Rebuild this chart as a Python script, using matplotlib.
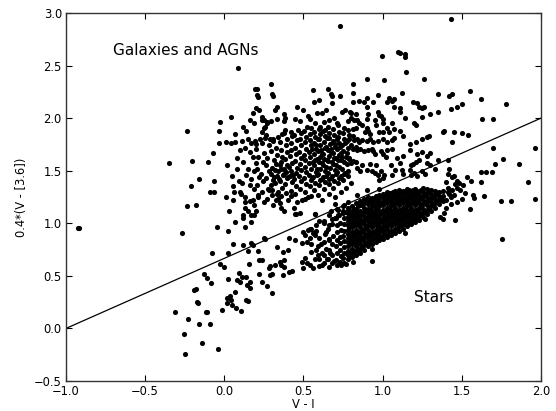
import matplotlib
matplotlib.use("Agg")
import matplotlib.pyplot as plt

# ---- data (V-I, 0.4*(V-[3.6])) ----
outliers = [(-0.925, 0.957), (-0.915, 0.955), (0.088, 2.48), (0.73, 2.875), (1.43, 2.94)]

left_pts = [
    (0.194, 2.28), (-0.027, 1.96), (0.042, 2.01), (-0.234, 1.875), (-0.032, 1.88), (-0.034, 1.76),
    (0.01, 1.77), (0.04, 1.76), (0.07, 1.77), (-0.07, 1.67), (-0.347, 1.573), (-0.204, 1.59),
    (-0.103, 1.58), (0.082, 1.52), (-0.162, 1.42), (-0.063, 1.40),
    (-0.21, 1.354), (-0.09, 1.30), (-0.065, 1.30), (0.057, 1.35), (0.10, 1.30), (0.105, 1.28),
    (-0.237, 1.16), (-0.18, 1.17), (0.053, 1.22), (0.13, 1.20), (0.16, 1.21), (0.13, 1.15),
    (0.117, 1.08), (0.12, 1.05), (0.17, 1.08), (0.068, 1.01), (-0.044, 0.967), (0.025, 0.93),
    (0.13, 0.967), (0.17, 1.01), (-0.265, 0.91), (0.19, 1.08), (0.20, 1.12), (0.19, 1.17),
    (0.02, 1.55), (0.05, 1.45), (0.08, 1.62), (0.06, 1.30), (0.03, 1.12), (0.09, 1.40), (0.10, 1.70),
    (0.07, 1.85), (0.01, 1.25), (0.12, 1.92), (0.14, 1.88), (0.15, 1.80), (0.17, 1.76), (0.13, 1.72),
    (0.16, 1.68), (0.18, 1.63), (0.12, 1.58), (0.15, 1.52), (0.19, 1.50), (0.14, 1.46), (0.17, 1.42),
    (0.11, 1.38), (0.16, 1.36), (0.19, 1.33), (0.13, 1.25), (0.18, 1.22), (0.15, 1.12), (0.19, 1.95),
    (0.20, 2.10), (0.18, 2.05), (0.16, 1.98), (0.11, 1.78), (0.20, 1.75), (0.20, 1.57),
    (0.205, 2.22), (0.21, 2.20), (0.22, 2.08), (0.24, 2.01), (0.25, 1.98), (0.27, 1.96), (0.26, 1.92),
]

low_pts = [
    (0.115, 0.79), (0.18, 0.79), (-0.076, 0.72), (0.025, 0.72), (0.155, 0.612), (-0.03, 0.61),
    (0.0, 0.587), (-0.13, 0.515), (-0.11, 0.476), (-0.086, 0.435), (0.093, 0.524), (0.11, 0.49),
    (0.078, 0.46), (0.10, 0.445), (0.14, 0.49), (0.16, 0.445), (0.145, 0.41), (0.16, 0.38),
    (0.025, 0.467), (-0.19, 0.37), (-0.18, 0.375), (-0.17, 0.25), (-0.165, 0.24), (-0.311, 0.16),
    (-0.117, 0.16), (-0.11, 0.16), (-0.013, 0.175), (0.015, 0.29), (0.036, 0.31), (0.07, 0.35),
    (0.015, 0.24), (0.045, 0.27), (0.05, 0.22), (0.075, 0.19), (0.105, 0.17), (0.135, 0.27),
    (0.15, 0.26), (-0.231, 0.087), (-0.157, 0.045), (-0.09, 0.045), (-0.256, -0.057),
    (-0.143, -0.139), (-0.25, -0.24), (-0.04, -0.2), (0.057, 0.80), (0.17, 0.81), (0.257, 0.85),
    (0.15, 0.74), (0.236, 0.65),
    (0.25, 0.857), (0.41, 0.857), (0.445, 0.84), (0.21, 0.74), (0.33, 0.77), (0.372, 0.73),
    (0.404, 0.745), (0.22, 0.65), (0.289, 0.59), (0.28, 0.57), (0.30, 0.52), (0.29, 0.51),
    (0.32, 0.60), (0.35, 0.63), (0.38, 0.65), (0.36, 0.60), (0.38, 0.58), (0.22, 0.52),
    (0.236, 0.44), (0.268, 0.40), (0.30, 0.34), (0.37, 0.51), (0.41, 0.54), (0.425, 0.546),
    (0.49, 0.81), (0.52, 0.82), (0.54, 0.86), (0.57, 0.89), (0.58, 0.98), (0.54, 0.95), (0.51, 0.89),
    (0.50, 0.92), (0.49, 0.63), (0.51, 0.67), (0.52, 0.62), (0.54, 0.60), (0.55, 0.73), (0.58, 0.745),
    (0.59, 0.70), (0.60, 0.59), (0.50, 0.57), (0.56, 0.57), (0.55, 0.95), (0.53, 0.94), (0.56, 0.91),
    (0.60, 0.66), (0.62, 0.72), (0.61, 0.80), (0.64, 0.76), (0.65, 0.66), (0.62, 0.60), (0.59, 0.78),
    (0.66, 0.84), (0.64, 0.92), (0.60, 0.86), (0.67, 0.72), (0.69, 0.64), (0.57, 0.66), (0.55, 0.80),
    (0.63, 1.00), (0.66, 0.98), (0.68, 1.04), (0.60, 1.02), (0.58, 0.93), (0.447, 1.088),
    (0.57, 1.088), (0.70, 1.05), (0.72, 1.08), (0.75, 1.095), (0.77, 1.11), (0.72, 1.13),
    (0.75, 1.16), (0.70, 1.18), (0.78, 1.20), (0.74, 0.60), (0.77, 0.61), (0.815, 0.63),
    (0.935, 0.645), (0.93, 0.76), (1.14, 0.91), (1.27, 1.04), (1.36, 1.06), (1.38, 1.04),
    (0.84, 1.27), (0.90, 1.32), (0.98, 1.33),
]

# dense stellar locus, listed column by column: (V-I, colour)
star_pts = [
    (0.63, 0.62), (0.632, 0.70), (0.628, 0.82), (0.635, 0.90), (0.63, 1.02),
    (0.66, 0.58), (0.657, 0.66), (0.663, 0.75), (0.66, 0.85), (0.655, 0.95), (0.662, 1.08),
    (0.68, 0.62), (0.683, 0.70), (0.677, 0.80), (0.684, 0.88), (0.68, 0.99), (0.676, 1.12),
    (0.71, 0.60), (0.706, 0.65), (0.712, 0.72), (0.708, 0.78), (0.714, 0.84), (0.709, 0.92),
    (0.712, 0.98), (0.706, 1.05), (0.711, 1.14),
    (0.73, 0.63), (0.734, 0.69), (0.728, 0.75), (0.733, 0.81), (0.729, 0.87), (0.735, 0.94),
    (0.731, 1.00), (0.727, 1.08),
    (0.755, 0.62), (0.752, 0.67), (0.758, 0.72), (0.754, 0.77), (0.757, 0.83), (0.751, 0.88),
    (0.756, 0.93), (0.753, 0.99), (0.758, 1.05), (0.752, 1.12), (0.757, 1.17),
    (0.78, 0.66), (0.78, 0.70), (0.78, 0.74), (0.78, 0.78), (0.78, 0.82), (0.78, 0.86), (0.78, 0.90),
    (0.78, 0.94), (0.78, 0.98), (0.78, 1.02), (0.78, 1.06), (0.78, 1.10), (0.78, 1.15),
    (0.805, 0.68), (0.805, 0.72), (0.805, 0.76), (0.805, 0.80), (0.805, 0.84), (0.805, 0.88),
    (0.805, 0.92), (0.805, 0.96), (0.805, 1.00), (0.805, 1.04), (0.805, 1.08), (0.805, 1.12),
    (0.805, 1.16),
    (0.83, 0.70), (0.83, 0.74), (0.83, 0.78), (0.83, 0.82), (0.83, 0.86), (0.83, 0.90), (0.83, 0.94),
    (0.83, 0.98), (0.83, 1.02), (0.83, 1.06), (0.83, 1.10), (0.83, 1.14), (0.83, 1.19),
    (0.855, 0.72), (0.855, 0.76), (0.855, 0.80), (0.855, 0.84), (0.855, 0.88), (0.855, 0.92),
    (0.855, 0.96), (0.855, 1.00), (0.855, 1.04), (0.855, 1.08), (0.855, 1.12), (0.855, 1.17),
    (0.855, 1.21),
    (0.88, 0.75), (0.88, 0.79), (0.88, 0.83), (0.88, 0.87), (0.88, 0.91), (0.88, 0.95), (0.88, 0.99),
    (0.88, 1.03), (0.88, 1.07), (0.88, 1.11), (0.88, 1.15), (0.88, 1.19), (0.88, 1.23),
    (0.905, 0.78), (0.905, 0.82), (0.905, 0.86), (0.905, 0.90), (0.905, 0.94), (0.905, 0.98),
    (0.905, 1.02), (0.905, 1.06), (0.905, 1.10), (0.905, 1.14), (0.905, 1.18), (0.905, 1.22),
    (0.905, 1.25),
    (0.93, 0.80), (0.93, 0.84), (0.93, 0.88), (0.93, 0.92), (0.93, 0.96), (0.93, 1.00), (0.93, 1.04),
    (0.93, 1.08), (0.93, 1.12), (0.93, 1.16), (0.93, 1.20), (0.93, 1.24),
    (0.955, 0.82), (0.955, 0.86), (0.955, 0.90), (0.955, 0.94), (0.955, 0.98), (0.955, 1.02),
    (0.955, 1.06), (0.955, 1.10), (0.955, 1.14), (0.955, 1.18), (0.955, 1.22), (0.955, 1.26),
    (0.98, 0.84), (0.98, 0.88), (0.98, 0.92), (0.98, 0.96), (0.98, 1.00), (0.98, 1.04), (0.98, 1.08),
    (0.98, 1.12), (0.98, 1.16), (0.98, 1.20), (0.98, 1.24), (0.98, 1.27),
    (1.005, 0.85), (1.005, 0.89), (1.005, 0.93), (1.005, 0.97), (1.005, 1.01), (1.005, 1.05),
    (1.005, 1.09), (1.005, 1.13), (1.005, 1.17), (1.005, 1.21), (1.005, 1.25), (1.005, 1.28),
    (1.03, 0.87), (1.03, 0.91), (1.03, 0.95), (1.03, 0.99), (1.03, 1.03), (1.03, 1.07), (1.03, 1.11),
    (1.03, 1.15), (1.03, 1.19), (1.03, 1.23), (1.03, 1.27), (1.03, 1.30),
    (1.055, 0.89), (1.055, 0.93), (1.055, 0.97), (1.055, 1.01), (1.055, 1.05), (1.055, 1.09),
    (1.055, 1.13), (1.055, 1.17), (1.055, 1.21), (1.055, 1.25), (1.055, 1.29),
    (1.08, 0.91), (1.08, 0.95), (1.08, 0.99), (1.08, 1.03), (1.08, 1.07), (1.08, 1.11), (1.08, 1.15),
    (1.08, 1.19), (1.08, 1.23), (1.08, 1.27), (1.08, 1.31),
    (1.105, 0.93), (1.105, 0.97), (1.105, 1.01), (1.105, 1.05), (1.105, 1.09), (1.105, 1.13),
    (1.105, 1.17), (1.105, 1.21), (1.105, 1.25), (1.105, 1.29), (1.105, 1.32),
    (1.13, 0.95), (1.13, 0.99), (1.13, 1.03), (1.13, 1.07), (1.13, 1.11), (1.13, 1.15), (1.13, 1.19),
    (1.13, 1.23), (1.13, 1.27), (1.13, 1.31),
    (1.155, 0.97), (1.155, 1.01), (1.155, 1.05), (1.155, 1.09), (1.155, 1.13), (1.155, 1.17),
    (1.155, 1.21), (1.155, 1.25), (1.155, 1.29), (1.155, 1.33),
    (1.18, 0.99), (1.18, 1.03), (1.18, 1.07), (1.18, 1.11), (1.18, 1.15), (1.18, 1.19), (1.18, 1.23),
    (1.18, 1.27), (1.18, 1.31),
    (1.205, 1.01), (1.205, 1.05), (1.205, 1.09), (1.205, 1.13), (1.205, 1.17), (1.205, 1.21),
    (1.205, 1.25), (1.205, 1.29), (1.205, 1.33),
    (1.23, 1.03), (1.23, 1.07), (1.23, 1.11), (1.23, 1.15), (1.23, 1.19), (1.23, 1.23), (1.23, 1.27),
    (1.23, 1.31),
    (1.255, 1.06), (1.255, 1.10), (1.255, 1.14), (1.255, 1.18), (1.255, 1.22), (1.255, 1.26),
    (1.255, 1.30), (1.255, 1.34),
    (1.28, 1.09), (1.28, 1.13), (1.28, 1.17), (1.28, 1.21), (1.28, 1.25), (1.28, 1.29), (1.28, 1.33),
    (1.305, 1.12), (1.305, 1.16), (1.305, 1.20), (1.305, 1.24), (1.305, 1.28), (1.305, 1.32),
    (1.33, 1.15), (1.33, 1.19), (1.33, 1.23), (1.33, 1.27), (1.33, 1.31),
    (1.355, 1.18), (1.355, 1.22), (1.355, 1.26), (1.355, 1.30),
    (1.38, 1.21), (1.38, 1.26), (1.38, 1.31),
]

# second, staggered layer of the stellar core (fills the solid black region)
star_core_fill = [
    (0.79, 0.72), (0.79, 0.80), (0.79, 0.88), (0.79, 0.96), (0.79, 1.04), (0.79, 1.12),
    (0.818, 0.74), (0.818, 0.82), (0.818, 0.90), (0.818, 0.98), (0.818, 1.06), (0.818, 1.14),
    (0.843, 0.76), (0.843, 0.84), (0.843, 0.92), (0.843, 1.00), (0.843, 1.08), (0.843, 1.16),
    (0.868, 0.77), (0.868, 0.85), (0.868, 0.93), (0.868, 1.01), (0.868, 1.09), (0.868, 1.17),
    (0.893, 0.80), (0.893, 0.88), (0.893, 0.96), (0.893, 1.04), (0.893, 1.12), (0.893, 1.20),
    (0.918, 0.82), (0.918, 0.90), (0.918, 0.98), (0.918, 1.06), (0.918, 1.14), (0.918, 1.22),
    (0.943, 0.84), (0.943, 0.92), (0.943, 1.00), (0.943, 1.08), (0.943, 1.16), (0.943, 1.24),
    (0.968, 0.86), (0.968, 0.94), (0.968, 1.02), (0.968, 1.10), (0.968, 1.18), (0.968, 1.25),
    (0.993, 0.87), (0.993, 0.95), (0.993, 1.03), (0.993, 1.11), (0.993, 1.19), (0.993, 1.26),
    (1.018, 0.89), (1.018, 0.97), (1.018, 1.05), (1.018, 1.13), (1.018, 1.21), (1.018, 1.28),
    (1.043, 0.91), (1.043, 0.99), (1.043, 1.07), (1.043, 1.15), (1.043, 1.23), (1.043, 1.29),
    (1.068, 0.93), (1.068, 1.01), (1.068, 1.09), (1.068, 1.17), (1.068, 1.25), (1.068, 1.30),
    (1.093, 0.95), (1.093, 1.03), (1.093, 1.11), (1.093, 1.19), (1.093, 1.27),
    (1.118, 0.97), (1.118, 1.05), (1.118, 1.13), (1.118, 1.21), (1.118, 1.29),
    (1.143, 0.99), (1.143, 1.07), (1.143, 1.15), (1.143, 1.23), (1.143, 1.31),
    (1.168, 1.01), (1.168, 1.09), (1.168, 1.17), (1.168, 1.25), (1.168, 1.32),
    (1.193, 1.03), (1.193, 1.11), (1.193, 1.19), (1.193, 1.27), (1.193, 1.32),
    (1.218, 1.05), (1.218, 1.13), (1.218, 1.21), (1.218, 1.29),
    (1.243, 1.08), (1.243, 1.16), (1.243, 1.24), (1.243, 1.32),
    (1.268, 1.11), (1.268, 1.19), (1.268, 1.27),
    (1.293, 1.14), (1.293, 1.22), (1.293, 1.30),
    (1.318, 1.17), (1.318, 1.25), (1.343, 1.20), (1.343, 1.28), (1.368, 1.24),
]

right_pts = [
    (1.457, 1.03), (1.756, 0.85), (1.55, 1.14), (1.75, 1.21), (1.81, 1.21), (1.96, 1.23),
    (1.415, 1.34), (1.47, 1.34), (1.45, 1.27), (1.52, 1.285), (1.43, 1.18), (1.47, 1.205),
    (1.50, 1.23), (1.58, 1.24), (1.64, 1.26), (1.415, 1.30), (1.44, 1.32), (1.42, 1.28),
    (1.40, 1.22), (1.43, 1.25), (1.40, 1.15), (1.39, 1.10),
    (1.42, 2.21), (1.44, 2.23), (1.55, 2.26), (1.43, 2.09), (1.47, 2.11), (1.50, 2.13),
    (1.62, 2.18), (1.78, 2.13), (1.626, 1.99), (1.70, 1.99), (1.39, 1.88), (1.45, 1.87), (1.50, 1.86),
    (1.54, 1.84), (1.44, 1.77), (1.70, 1.72), (1.96, 1.72), (1.76, 1.61), (1.71, 1.56), (1.86, 1.56),
    (1.415, 1.60), (1.42, 1.52), (1.415, 1.47), (1.45, 1.45), (1.44, 1.44), (1.47, 1.40),
    (1.48, 1.38), (1.53, 1.44), (1.56, 1.40), (1.62, 1.49), (1.65, 1.49), (1.69, 1.49), (1.62, 1.39),
    (1.92, 1.39), (1.40, 1.39), (1.35, 2.23), (1.215, 2.14), (1.25, 2.10), (1.30, 2.04), (1.35, 2.06),
    (1.457, 1.37), (1.49, 1.32), (1.51, 1.36), (1.57, 1.27), (1.22, 1.45), (1.25, 1.50), (1.27, 1.47),
    (1.30, 1.55), (1.33, 1.52), (1.35, 1.60), (1.28, 1.57),
]

upper_pts = [
    (0.994, 2.59), (1.10, 2.63), (1.11, 2.62), (1.14, 2.61), (1.14, 2.58), (1.15, 2.44), (0.90, 2.37),
    (1.01, 2.36), (1.26, 2.37), (0.815, 2.32), (0.815, 2.24), (1.12, 2.24), (0.97, 2.22), (0.90, 2.19),
    (0.88, 2.15), (0.85, 2.16), (0.81, 2.15), (1.04, 2.19), (1.06, 2.16), (1.07, 2.18), (1.03, 2.15),
    (1.07, 2.11), (1.11, 2.10), (0.94, 2.15), (0.90, 2.11), (1.19, 2.15), (1.23, 2.11), (1.26, 2.11),
    (1.11, 2.06), (0.83, 2.04), (0.80, 2.05), (0.97, 2.06), (0.98, 2.03), (0.99, 2.02), (1.00, 1.99),
    (0.91, 2.04), (0.90, 1.99), (1.14, 2.0), (1.25, 2.01), (1.20, 1.95), (1.21, 1.93), (0.80, 2.0),
    (0.82, 1.98), (0.84, 1.98), (0.85, 1.95), (0.83, 1.91), (0.81, 1.90), (0.87, 1.93), (0.90, 1.91),
    (0.91, 1.88), (0.89, 1.87), (0.92, 1.85), (0.95, 1.98), (0.96, 1.93), (1.00, 1.95), (1.03, 1.91),
    (1.06, 1.95), (1.07, 1.90), (1.04, 1.87), (1.00, 1.87), (0.98, 1.87), (1.11, 1.88), (1.13, 1.83),
    (1.29, 1.83), (1.38, 1.87), (0.81, 1.83), (0.79, 1.80), (0.82, 1.79), (0.84, 1.80), (0.85, 1.77),
    (0.87, 1.79), (0.90, 1.78), (0.92, 1.80), (0.94, 1.77), (0.97, 1.78), (1.00, 1.80), (1.03, 1.77),
    (1.06, 1.79), (1.07, 1.81), (1.17, 1.75), (1.21, 1.77), (1.25, 1.80), (1.28, 1.82), (0.80, 1.74),
    (0.81, 1.71), (0.83, 1.73), (0.84, 1.70), (0.86, 1.71), (0.88, 1.69), (0.91, 1.70), (0.93, 1.71),
    (0.94, 1.69), (0.95, 1.66), (0.99, 1.69), (1.00, 1.66), (1.03, 1.70), (1.06, 1.71), (1.02, 1.63),
    (1.09, 1.62), (1.13, 1.64), (1.17, 1.70), (1.22, 1.66), (1.25, 1.68), (0.79, 1.62), (0.81, 1.59),
    (0.80, 1.57), (0.83, 1.58), (0.84, 1.53), (0.87, 1.55), (0.86, 1.50), (0.90, 1.51), (0.92, 1.56),
    (0.93, 1.50), (0.96, 1.55), (0.95, 1.48), (0.97, 1.46), (0.99, 1.50), (1.01, 1.46), (1.00, 1.43),
    (0.98, 1.41), (1.05, 1.55), (1.08, 1.51), (1.06, 1.46), (1.11, 1.57), (1.12, 1.51), (1.13, 1.47),
    (1.17, 1.51), (1.18, 1.55), (1.19, 1.56), (1.21, 1.58), (1.23, 1.60), (1.28, 1.64), (1.30, 1.67),
    (1.18, 1.46), (1.20, 1.48),
    (0.205, 2.28), (0.293, 2.32), (0.30, 2.23), (0.31, 2.21), (0.56, 2.27), (0.653, 2.28),
    (0.672, 2.23), (0.683, 2.21), (0.73, 2.21), (0.569, 2.15), (0.60, 2.17), (0.678, 2.14),
    (0.457, 2.11), (0.499, 2.08), (0.32, 2.08), (0.33, 2.11), (0.64, 2.08), (0.62, 2.05), (0.584, 2.05),
    (0.38, 2.04), (0.383, 2.0), (0.38, 1.97), (0.741, 2.06), (0.762, 2.08), (0.794, 2.06),
    (0.236, 1.98), (0.268, 1.95), (0.295, 1.97), (0.33, 1.99), (0.447, 1.99), (0.478, 1.97),
    (0.53, 2.02), (0.54, 1.99), (0.661, 1.98), (0.71, 1.95), (0.253, 1.91), (0.236, 1.87),
    (0.383, 1.89), (0.38, 1.86), (0.419, 1.87), (0.463, 1.89), (0.52, 1.92), (0.55, 1.91),
    (0.604, 1.92), (0.636, 1.89), (0.194, 1.78), (0.226, 1.80), (0.257, 1.81), (0.289, 1.80),
    (0.31, 1.80),
]

galaxy_pts = [
    (0.212, 1.25), (0.205, 1.36), (0.218, 1.44), (0.209, 1.52), (0.215, 1.63), (0.203, 1.71),
    (0.238, 1.30), (0.246, 1.40), (0.234, 1.47), (0.243, 1.58), (0.249, 1.67), (0.236, 1.76),
    (0.268, 1.23), (0.274, 1.33), (0.262, 1.43), (0.279, 1.50), (0.266, 1.55), (0.272, 1.62),
    (0.281, 1.74), (0.264, 1.84),
    (0.301, 1.27), (0.295, 1.36), (0.308, 1.41), (0.297, 1.47), (0.304, 1.53), (0.311, 1.60),
    (0.293, 1.69), (0.306, 1.78),
    (0.328, 1.22), (0.336, 1.30), (0.322, 1.38), (0.331, 1.45), (0.339, 1.50), (0.325, 1.56),
    (0.334, 1.65), (0.327, 1.72), (0.338, 1.82),
    (0.357, 1.26), (0.364, 1.34), (0.352, 1.40), (0.368, 1.46), (0.359, 1.52), (0.355, 1.58),
    (0.366, 1.63), (0.361, 1.70), (0.354, 1.77), (0.367, 1.85),
    (0.391, 1.29), (0.384, 1.37), (0.396, 1.43), (0.388, 1.49), (0.393, 1.55), (0.385, 1.61),
    (0.398, 1.68), (0.389, 1.74), (0.394, 1.80),
    (0.418, 1.31), (0.426, 1.39), (0.414, 1.45), (0.423, 1.50), (0.429, 1.57), (0.416, 1.64),
    (0.424, 1.70), (0.419, 1.76), (0.427, 1.83),
    (0.447, 1.28), (0.454, 1.35), (0.442, 1.42), (0.451, 1.48), (0.458, 1.53), (0.445, 1.59),
    (0.453, 1.66), (0.449, 1.72), (0.456, 1.79), (0.443, 1.84),
    (0.478, 1.33), (0.484, 1.40), (0.472, 1.45), (0.487, 1.51), (0.476, 1.56), (0.482, 1.62),
    (0.474, 1.68), (0.486, 1.74), (0.479, 1.80), (0.483, 1.86),
    (0.508, 1.30), (0.514, 1.37), (0.503, 1.43), (0.517, 1.49), (0.509, 1.54), (0.512, 1.60),
    (0.505, 1.65), (0.516, 1.71), (0.507, 1.77), (0.513, 1.82), (0.504, 1.88),
    (0.538, 1.35), (0.545, 1.41), (0.533, 1.46), (0.547, 1.52), (0.536, 1.57), (0.542, 1.63),
    (0.534, 1.68), (0.546, 1.74), (0.539, 1.79), (0.543, 1.85),
    (0.568, 1.32), (0.575, 1.38), (0.563, 1.44), (0.577, 1.49), (0.566, 1.55), (0.572, 1.60),
    (0.564, 1.66), (0.576, 1.71), (0.569, 1.76), (0.573, 1.82), (0.565, 1.87), (0.571, 1.95),
    (0.598, 1.36), (0.604, 1.41), (0.593, 1.47), (0.607, 1.52), (0.596, 1.58), (0.602, 1.63),
    (0.594, 1.69), (0.606, 1.74), (0.599, 1.80), (0.603, 1.85), (0.595, 1.90),
    (0.628, 1.33), (0.635, 1.39), (0.623, 1.44), (0.637, 1.50), (0.626, 1.55), (0.632, 1.61),
    (0.624, 1.66), (0.636, 1.72), (0.629, 1.77), (0.633, 1.83), (0.625, 1.88), (0.631, 1.96),
    (0.658, 1.37), (0.664, 1.42), (0.653, 1.48), (0.667, 1.53), (0.656, 1.59), (0.662, 1.64),
    (0.654, 1.70), (0.666, 1.75), (0.659, 1.81), (0.663, 1.86), (0.655, 1.92),
    (0.688, 1.34), (0.695, 1.40), (0.683, 1.45), (0.697, 1.51), (0.686, 1.56), (0.692, 1.62),
    (0.684, 1.67), (0.696, 1.73), (0.689, 1.78), (0.693, 1.84), (0.685, 1.90), (0.691, 2.00),
    (0.718, 1.38), (0.724, 1.43), (0.713, 1.49), (0.727, 1.54), (0.716, 1.60), (0.722, 1.65),
    (0.714, 1.71), (0.726, 1.76), (0.719, 1.82), (0.723, 1.87), (0.715, 1.93),
    (0.748, 1.41), (0.755, 1.47), (0.743, 1.52), (0.757, 1.58), (0.746, 1.63), (0.752, 1.69),
    (0.744, 1.74), (0.756, 1.80), (0.749, 1.86), (0.753, 1.91),
    (0.778, 1.45), (0.784, 1.50), (0.773, 1.56), (0.787, 1.61), (0.776, 1.67), (0.782, 1.72),
    (0.774, 1.78), (0.786, 1.84), (0.779, 1.89), (0.783, 1.97),
    (0.555, 1.43), (0.585, 1.46), (0.615, 1.42), (0.645, 1.45), (0.675, 1.43), (0.705, 1.47),
    (0.735, 1.45), (0.765, 1.48), (0.558, 1.58), (0.588, 1.61), (0.618, 1.57), (0.648, 1.60),
    (0.678, 1.58), (0.708, 1.62), (0.738, 1.60), (0.768, 1.63), (0.552, 1.71), (0.582, 1.74),
    (0.612, 1.70), (0.642, 1.73), (0.672, 1.71), (0.702, 1.75), (0.732, 1.73), (0.762, 1.76),
    (0.585, 1.52), (0.645, 1.54), (0.705, 1.55), (0.615, 1.66), (0.675, 1.68), (0.735, 1.67),
    (0.59, 1.80), (0.65, 1.81), (0.71, 1.80),
    (0.315, 1.44), (0.345, 1.42), (0.375, 1.47), (0.405, 1.44), (0.435, 1.46), (0.32, 1.51),
    (0.35, 1.55), (0.38, 1.52), (0.41, 1.54),
    (0.25, 1.20), (0.31, 1.17), (0.40, 1.22), (0.46, 1.20), (0.53, 1.25), (0.59, 1.27), (0.62, 1.22),
    (0.66, 1.28), (0.70, 1.25), (0.74, 1.30), (0.77, 1.34), (0.80, 1.38), (0.44, 1.15), (0.38, 1.12),
    (0.48, 1.10), (0.215, 1.27), (0.28, 1.32), (0.30, 1.32), (0.33, 1.28), (0.34, 1.23), (0.35, 1.19),
    (0.36, 1.15), (0.42, 1.26), (0.49, 1.22), (0.51, 1.23), (0.55, 1.26), (0.45, 1.085), (0.57, 1.085),
]

line_x = [-1.0, 2.0]
line_y = [0.0, 2.0]

x_ticks = [-1.0, -0.5, 0.0, 0.5, 1.0, 1.5, 2.0]
y_ticks = [-0.5, 0.0, 0.5, 1.0, 1.5, 2.0, 2.5, 3.0]

# ---- figure ----
fig = plt.figure(figsize=(5.56, 4.11), dpi=100)
ax = fig.add_axes([0.1187, 0.073, 0.8543, 0.8954])

all_pts = (outliers + left_pts + low_pts + star_pts + star_core_fill + right_pts
           + upper_pts + galaxy_pts)
xs = [p[0] for p in all_pts]
ys = [p[1] for p in all_pts]
ax.plot(xs, ys, 'o', color='black', markersize=3.7, markeredgewidth=0, linestyle='none')
ax.plot(line_x, line_y, color='black', linewidth=0.9)

ax.set_xlim(-1.0, 2.0)
ax.set_ylim(-0.5, 3.0)
ax.set_xticks(x_ticks)
ax.set_yticks(y_ticks)
ax.set_xticklabels([f"{t:.1f}".replace('-', '\u2212') for t in x_ticks])
ax.set_yticklabels([f"{t:.1f}".replace('-', '\u2212') for t in y_ticks])
ax.tick_params(direction='in', length=4, width=0.8, top=True, right=True,
               labelsize=8.3, pad=3)
for s in ax.spines.values():
    s.set_linewidth(1.0)
    s.set_color('#333333')

ax.set_xlabel('V - I', fontsize=8.3, labelpad=0)
ax.set_ylabel('0.4*(V - [3.6])', fontsize=8.3, labelpad=4)

ax.text(-0.70, 2.60, 'Galaxies and AGNs', fontsize=11, ha='left', va='baseline')
ax.text(1.20, 0.25, 'Stars', fontsize=11, ha='left', va='baseline')

fig.savefig('out.png', dpi=100)
